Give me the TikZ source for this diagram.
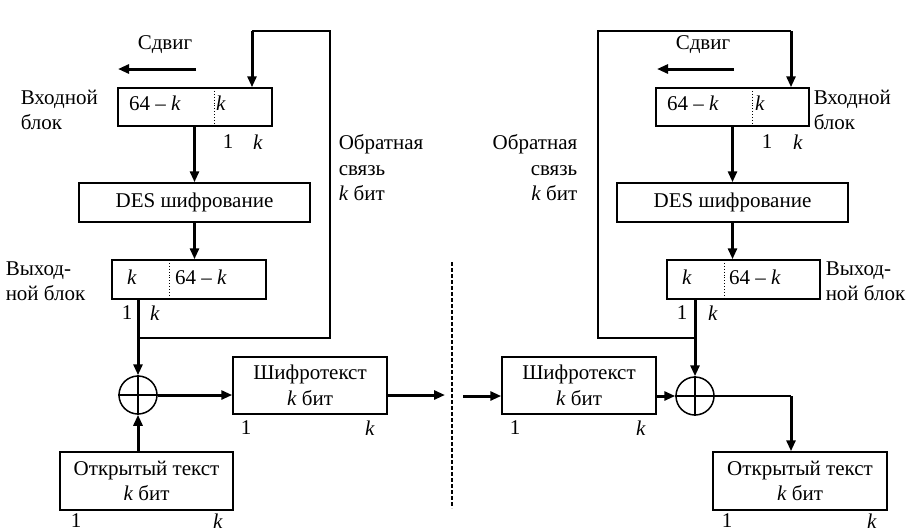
\documentclass[tikz,border=0pt]{standalone}
\usepackage{fontspec}
\setmainfont{Liberation Serif}
\usetikzlibrary{arrows.meta}
\newcommand\kit{\textit{k}}

\begin{document}
\begin{tikzpicture}[x=1pt,y=-1pt,line width=1.5pt,
    every node/.style={font=\fontsize{21}{25.5}\selectfont,inner sep=0pt},
    blk/.style={draw,rectangle,align=center},
    arr/.style={-{Triangle[length=11pt,width=9pt]},line width=3pt},
    xor/.style={draw,circle,minimum size=38pt}]
    \useasboundingbox (0,0) rectangle (909,531);

    \node[blk,minimum width=154pt,minimum height=38pt] (inL) at (195,107) {};
    \node[blk,minimum width=231pt,minimum height=39pt] (desL) at (194.5,202.5) {DES шифрование};
    \node[blk,minimum width=154pt,minimum height=39pt] (outL) at (189,279.5) {};
    \node[xor] (xorL) at (138,395) {};
    \node[blk,minimum width=154pt,minimum height=57pt] (ctL) at (310,385.5) {Шифротекст\\\kit{} бит};
    \node[blk,minimum width=173pt,minimum height=58pt] (ptL) at (146.5,481) {Открытый текст\\\kit{} бит};

    \node[blk,minimum width=153pt,minimum height=38pt] (inR) at (732.5,107) {};
    \node[blk,minimum width=231pt,minimum height=39pt] (desR) at (732.5,202.5) {DES шифрование};
    \node[blk,minimum width=153pt,minimum height=39pt] (outR) at (743.5,279.5) {};
    \node[xor] (xorR) at (695,396) {};
    \node[blk,minimum width=154pt,minimum height=57pt] (ctR) at (579,385.5) {Шифротекст\\\kit{} бит};
    \node[blk,minimum width=174pt,minimum height=58pt] (ptR) at (800,481) {Открытый текст\\\kit{} бит};

    \draw[dotted,line width=0.9pt] (214,88) -- (214,126);
    \draw[dotted,line width=0.9pt] (169,260) -- (169,299);
    \draw[dotted,line width=0.9pt] (752,88) -- (752,126);
    \draw[dotted,line width=0.9pt] (724,260) -- (724,299);

    \node at (155,103) {64 -- \kit};
    \node at (221,103) {\kit};
    \node at (228,142) {1};
    \node at (258,142) {\kit};
    \node at (132,277) {\kit};
    \node at (201,277) {64 -- \kit};
    \node at (127,313) {1};
    \node at (155,313) {\kit};
    \node at (246,428) {1};
    \node at (370,428) {\kit};
    \node at (76,521) {1};
    \node at (218,521) {\kit};

    \node at (693,103) {64 -- \kit};
    \node at (760,103) {\kit};
    \node at (767,142) {1};
    \node at (798,142) {\kit};
    \node at (687,277) {\kit};
    \node at (755,277) {64 -- \kit};
    \node at (682,313) {1};
    \node at (713,313) {\kit};
    \node at (515,428) {1};
    \node at (641,428) {\kit};
    \node at (727,521) {1};
    \node at (872,521) {\kit};

    \node[anchor=west,align=left] (inLbl) at (20,110) {Входной\\блок};
    \node[anchor=west,align=left] (outLbl) at (5,281) {Выход-\\ной блок};
    \node[anchor=west,align=left] (fbLbl) at (338,168) {Обратная\\связь\\\kit{} бит};
    \node (shL) at (165,45) {Сдвиг};
    \node[anchor=west,align=left] (inRlbl) at (813,110) {Входной\\блок};
    \node[anchor=west,align=left] (outRlbl) at (825,281) {Выход-\\ной блок};
    \node[anchor=east,align=right] (fbRlbl) at (578,168) {Обратная\\связь\\\kit{} бит};
    \node (shR) at (703,45) {Сдвиг};

    \coordinate (shL0) at (196,69);
    \coordinate (shL1) at (118,69);
    \coordinate (shR0) at (734,69);
    \coordinate (shR1) at (657,69);
    \coordinate (fbL) at (330,338);
    \coordinate (fbtL) at (252,31);
    \coordinate (fbR) at (598,338);
    \coordinate (fbtR) at (791,31);
    \coordinate (sendL) at (445,395);
    \coordinate (recvR) at (463,396);
    \coordinate (turnR) at (791,396);

    \draw[arr] (shL0) -- (shL1);
    \draw[arr] (shR0) -- (shR1);

    \draw (xorL.north |- fbL) -- (fbL) |- (fbtL);
    \draw[arr] (fbtL) -- (fbtL |- inL.north);
    \draw[arr] (inL.south -| desL.north) -- (desL.north);
    \draw[arr] (desL.south) -- (desL.south |- outL.north);
    \draw[arr] (outL.south -| xorL.north) -- (xorL.north);
    \draw[arr] (xorL.south |- ptL.north) -- (xorL.south);
    \draw[arr] (xorL.east) -- (xorL.east -| ctL.west);
    \draw[arr] (ctL.east |- xorL.east) -- (sendL);
    \draw (xorL.north) -- (xorL.south) (xorL.west) -- (xorL.east);

    \draw (xorR.north |- fbR) -- (fbR) |- (fbtR);
    \draw[arr] (fbtR) -- (fbtR |- inR.north);
    \draw[arr] (inR.south -| desR.north) -- (desR.north);
    \draw[arr] (desR.south) -- (desR.south |- outR.north);
    \draw[arr] (outR.south -| xorR.north) -- (xorR.north);
    \draw[arr] (recvR) -- (recvR -| ctR.west);
    \draw[arr] (ctR.east |- xorR.west) -- (xorR.west);
    \draw (xorR.east) -- (turnR);
    \draw[arr] (turnR) -- (turnR |- ptR.north);
    \draw (xorR.north) -- (xorR.south) (xorR.west) -- (xorR.east);

    \draw[line width=2.2pt,dash pattern=on 4pt off 2pt] (452,262) -- (452,508);
\end{tikzpicture}
\end{document}
